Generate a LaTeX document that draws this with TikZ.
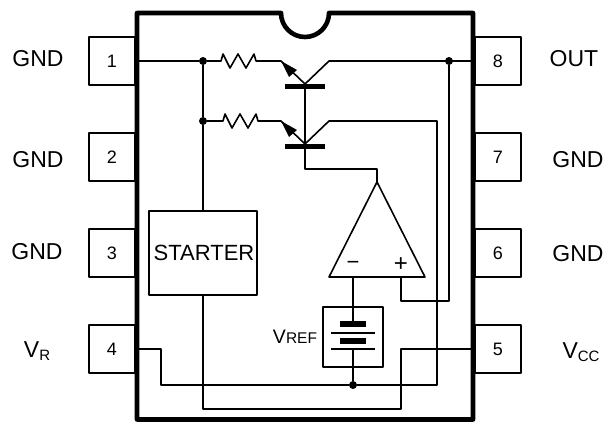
\documentclass[tikz,border=0pt]{standalone}
\usepackage{fontspec}
\setmainfont{Liberation Sans}
\begin{document}
\begin{tikzpicture}[x=1pt,y=-1pt,line join=round,
  wire/.style={draw=black,line width=1.6pt},
  pinbox/.style={draw=black,line width=1.6pt,minimum width=46pt,minimum height=48pt,inner sep=0pt,font=\fontsize{18}{20}\selectfont,anchor=center},
  lab/.style={font=\fontsize{23}{25}\selectfont,inner sep=0pt,anchor=center},
  dotn/.style={circle,fill=black,inner sep=0pt,minimum size=8pt},
  thick bar/.style={fill=black,draw=none,inner sep=0pt}]
\useasboundingbox (0,0) rectangle (606,422);
% pins
\node[pinbox] (p1) at (112,61) {1};
\node[pinbox] (p2) at (112,157) {2};
\node[pinbox] (p3) at (112,253) {3};
\node[pinbox] (p4) at (112,349) {4};
\node[pinbox] (p8) at (498,61) {8};
\node[pinbox] (p7) at (498,157) {7};
\node[pinbox] (p6) at (498,253) {6};
\node[pinbox] (p5) at (498,349) {5};
% package
\draw[line width=4.6pt] (137,13) -- (281,13) arc[start angle=180,end angle=360,radius=24pt] -- (473,13) -- (473,419.5) -- (137,419.5) -- cycle;
% labels
\node[lab] (lgnd1) at (38,59) {GND};
\node[lab] (lgnd2) at (38,160) {GND};
\node[lab] (lgnd3) at (37,252) {GND};
\node[lab] (lvr) at (37,351) {V\raisebox{-3pt}{\fontsize{15}{16}\selectfont R}};
\node[lab] (lout) at (574,59) {OUT};
\node[lab] (lgnd7) at (578,160) {GND};
\node[lab] (lgnd6) at (578,254) {GND};
\node[lab] (lvcc) at (581,352) {V\raisebox{-3pt}{\fontsize{15}{16}\selectfont CC}};
% starter
\node[draw=black,line width=1.6pt,minimum width=108pt,minimum height=84pt,inner sep=0pt,font=\fontsize{22}{24}\selectfont] (st) at (203,253) {\hspace*{2pt}STARTER};
% junctions
\node[dotn] (d1) at (203,61) {};
\node[dotn] (d2) at (203,121) {};
\node[dotn] (d3) at (449,61) {};
\node[dotn] (d4) at (353,385) {};
\coordinate (e1) at (281,61);
\coordinate (j1) at (305,84);
\coordinate (c1) at (329,61);
\coordinate (e2) at (281,121);
\coordinate (j2) at (305,144);
\coordinate (c2) at (329,121);
% wires
\draw[wire] (p1.east) -- (d1) -- (221,61) -- (223,54) -- (230,68) -- (238,54) -- (246,68) -- (254,54) -- (256,61) -- (e1) -- (j1) -- (c1) -- (p8.west);
\draw[wire] (d1) -- (d2) -- (st.north);
\draw[wire] (d2) -- (223,121) -- (225,114) -- (232,128) -- (240,114) -- (248,128) -- (256,114) -- (258,121) -- (e2) -- (j2) -- (c2) -- (437,121) -- (437,385) -- (d4) -- (161,385) -- (161,349) -- (p4.east);
\draw[wire] (j1) -- (j2) -- (305,169) -- (377,169) -- (377,182);
% bars
\node[thick bar,minimum width=40pt,minimum height=5pt] (b1) at (305,87) {};
\node[thick bar,minimum width=40pt,minimum height=5pt] (b2) at (305,147) {};
% arrowheads
\fill (281,61) -- (297,70) -- (289,77) -- cycle;
\fill (281,121) -- (297,130) -- (289,137) -- cycle;
% opamp
\draw[wire,fill=white] (377,182) -- (425,277) -- (329,277) -- cycle;
\node[font=\fontsize{22}{24}\selectfont,inner sep=0pt] (minus) at (353,265) {−};
\node[font=\fontsize{24}{26}\selectfont,inner sep=0pt] (plus) at (401,265) {+};
% battery box
\node[draw=black,line width=1.6pt,minimum width=60pt,minimum height=60pt,inner sep=0pt] (bat) at (353,337) {};
\node[font=\fontsize{19.5}{21}\selectfont,inner sep=0pt] (vref) at (295,337) {V\fontsize{15.5}{17}\selectfont REF};
\coordinate (mp) at (353,277);
\coordinate (bt) at (353,324);
\coordinate (bb) at (353,349);
\draw[wire] (mp) -- (bt);
\draw[wire] (bb) -- (d4);
\node[thick bar,minimum width=26pt,minimum height=5.5pt] (t1) at (353,324) {};
\node[thick bar,minimum width=26pt,minimum height=5.5pt] (t2) at (353,341) {};
\draw[wire] (331,333) -- (375,333);
\draw[wire] (331,349) -- (375,349);
% plus wire, vcc wire
\coordinate (pp) at (401,277);
\draw[wire] (pp) -- (401,301) -- (449,301) -- (d3);
\draw[wire] (p5.west) -- (401,349) -- (401,409) -- (203,409) -- (st.south);
\end{tikzpicture}
\end{document}
